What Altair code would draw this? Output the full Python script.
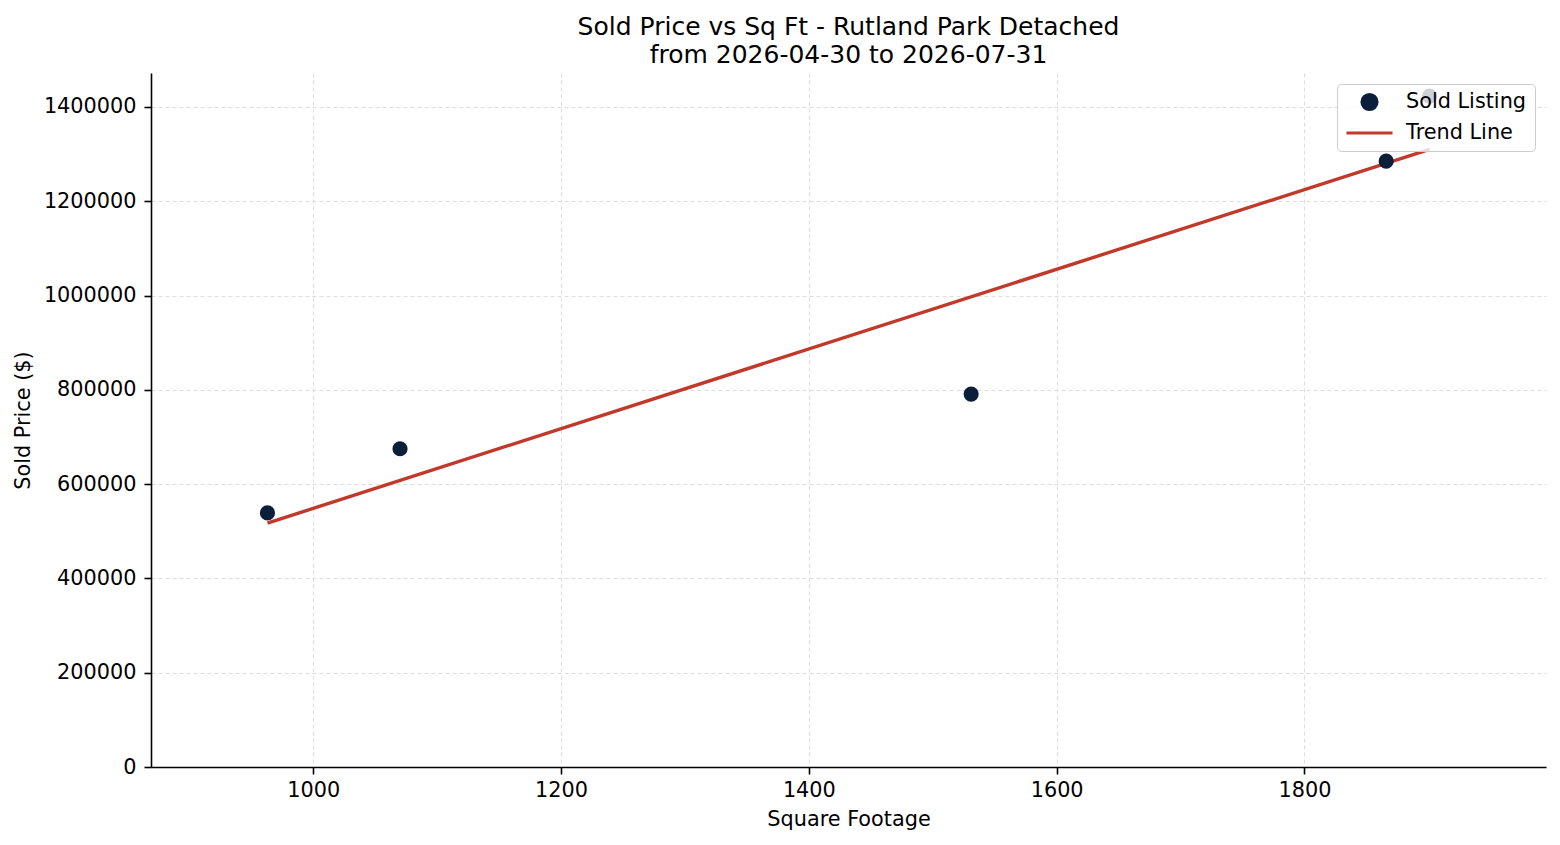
import altair as alt
import pandas as pd

# Data
sqft = [963, 1070, 1531, 1866, 1901]
price = [539000, 675000, 791000, 1285000, 1423000]

series_names = ["Sold Listing", "Trend Line"]
series_colors = ["#0b1f3a", "#c0392b"]
series_shapes = ["circle", "stroke"]
series_sizes = [230, 2116]

x_ticks = [1000, 1200, 1400, 1600, 1800]
y_ticks = [0, 200000, 400000, 600000, 800000, 1000000, 1200000, 1400000]
x_domain = [869, 1995]
y_domain = [0, 1472000]

df = pd.DataFrame({"sqft": sqft, "price": price})

FONT = "DejaVu Sans"
FS = 20.8

legend = alt.Legend(
    title=None,
    orient="top-right",
    offset=11,
    padding=8,
    fillColor="rgba(255,255,255,0.8)",
    strokeColor="#cccccc",
    cornerRadius=4,
    labelFont=FONT,
    labelFontSize=FS,
    labelColor="#000000",
    labelOffset=12,
    rowPadding=10,
    clipHeight=20,
    symbolStrokeWidth=3,
    symbolOpacity=1,
)

color_scale = alt.Scale(domain=series_names, range=series_colors)

x_enc = alt.X(
    "sqft:Q",
    title="Square Footage",
    scale=alt.Scale(domain=x_domain, nice=False, zero=False),
    axis=alt.Axis(values=x_ticks, format="d", titleY=52, titleBaseline="middle",
                  labelPadding=6),
)
y_enc = alt.Y(
    "price:Q",
    title="Sold Price ($)",
    scale=alt.Scale(domain=y_domain, nice=False),
    axis=alt.Axis(values=y_ticks, format="d", titleX=-128, titleY=347,
                  titleBaseline="middle", titleAngle=270, labelPadding=8),
)

points = (
    alt.Chart(df)
    .transform_calculate(series="'Sold Listing'")
    .mark_point(filled=True, opacity=1, strokeWidth=0)
    .encode(
        x=x_enc,
        y=y_enc,
        color=alt.Color("series:N", scale=color_scale, legend=legend),
        shape=alt.Shape("series:N", scale=alt.Scale(domain=series_names, range=series_shapes), legend=legend),
        size=alt.Size("series:N", scale=alt.Scale(type="point", padding=0, domain=series_names, range=series_sizes), legend=legend),
        stroke=alt.Stroke("series:N", scale=color_scale, legend=legend),
    )
)

trend = (
    alt.Chart(df)
    .transform_regression("sqft", "price")
    .transform_calculate(series="'Trend Line'")
    .mark_line(strokeWidth=3.4)
    .encode(
        x=x_enc,
        y=y_enc,
        color=alt.Color("series:N", scale=color_scale, legend=legend),
    )
)

chart = (
    alt.layer(trend, points)
    .properties(
        width=1395,
        height=694,
        title=alt.TitleParams(
            text=["Sold Price vs Sq Ft - Rutland Park Detached", "from 2026-04-30 to 2026-07-31"],
            font=FONT,
            fontSize=25,
            fontWeight="normal",
            color="#000000",
            anchor="middle",
            frame="group",
            lineHeight=28.5,
            offset=5,
        ),
        autosize=alt.AutoSizeParams(type="none"),
        padding={"left": 143, "top": 65, "right": 5, "bottom": 70},
    )
    .configure_view(stroke=None)
    .configure_axis(
        labelFont=FONT,
        labelFontSize=FS,
        labelColor="#000000",
        titleFont=FONT,
        titleFontSize=FS,
        titleFontWeight="normal",
        titleColor="#000000",
        domainColor="#000000",
        domainWidth=1.6,
        tickColor="#000000",
        tickWidth=1.6,
        tickSize=7,
        grid=True,
        gridColor="#dddddd",
        gridWidth=1,
        gridDash=[4, 3],
    )
)

chart.save("out.html", embed_options={"renderer": "svg", "actions": False})
